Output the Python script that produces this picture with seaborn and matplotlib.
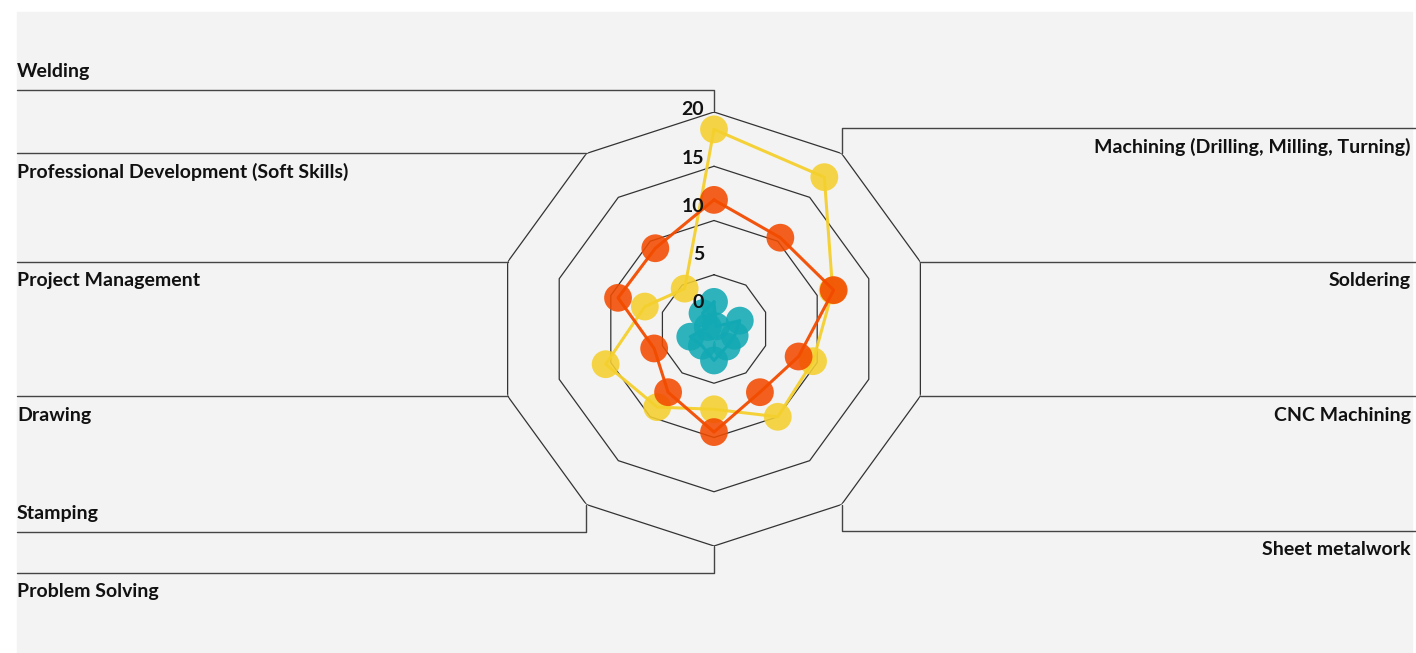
import numpy as np
import pandas as pd
import matplotlib
matplotlib.use("Agg")
import matplotlib.pyplot as plt
from matplotlib.lines import Line2D
from matplotlib.patches import Rectangle
import seaborn as sns

# categories, clockwise from the top
categories = [
    "Welding",
    "Machining (Drilling, Milling, Turning)",
    "Soldering",
    "CNC Machining",
    "Sheet metalwork",
    "Problem Solving",
    "Stamping",
    "Drawing",
    "Project Management",
    "Professional Development (Soft Skills)",
]
yellow_values = [18.4, 17.3, 11.5, 9.6, 10.0, 7.4, 8.9, 10.5, 6.7, 4.6]
orange_values = [11.9, 10.4, 11.6, 8.2, 7.2, 9.5, 7.2, 5.8, 9.3, 9.2]
teal_values = [2.5, 0.3, 2.5, 2.0, 2.0, 2.9, 1.9, 2.3, 0.6, 1.8]
ring_values = [5, 10, 15, 20]
tick_values = [0, 5, 10, 15, 20]

series = {"A": yellow_values, "B": orange_values, "C": teal_values}
colors = {"A": "#F5D02E", "B": "#F24B00", "C": "#12A9B4"}

sns.set_theme(style="white")
plt.rcParams["font.family"] = ["Lato", "DejaVu Sans"]

n = len(categories)
theta = np.arange(n) * 2 * np.pi / n

rows = []
for name, vals in series.items():
    for i in range(n + 1):
        rows.append({"series": name, "theta": theta[i % n], "value": vals[i % n], "order": i})
df = pd.DataFrame(rows)

W, H = 1416, 653
fig = plt.figure(figsize=(W / 100, H / 100), dpi=100)
fig.patch.set_facecolor("white")
fig.add_artist(Rectangle((17 / W, 0), (1412 - 17) / W, (H - 12) / H,
                         transform=fig.transFigure, color="#f3f3f3", zorder=0))

# radar centre and outer radius, in pixels
cx, cy, R = 714, H - 329, 217
ax = fig.add_axes([(cx - R) / W, (cy - R) / H, 2 * R / W, 2 * R / H], projection="polar")
ax.set_theta_zero_location("N")
ax.set_theta_direction(-1)
ax.set_ylim(0, 20)
ax.grid(False)
ax.spines["polar"].set_visible(False)
ax.patch.set_alpha(0)

# polygon rings
closed = np.append(theta, theta[0])
for v in ring_values:
    ax.plot(closed, [v] * len(closed), color="#333333", lw=0.9, zorder=1)

for k, name in enumerate(series):
    sub = df[df["series"] == name]
    sns.lineplot(data=sub, x="theta", y="value", sort=False, estimator=None,
                 color=colors[name], lw=2.2, alpha=0.95, ax=ax, zorder=2 + 2 * k)
    sns.scatterplot(data=sub.iloc[:-1], x="theta", y="value", color=colors[name],
                    s=400, alpha=0.88, edgecolor="none", ax=ax, zorder=3 + 2 * k)

ax.set_xticks([])
ax.set_yticks([])
ax.set_xlabel("")
ax.set_ylabel("")
ax.set_ylim(0, 20)

# radial value labels
for v in tick_values:
    ax.annotate(str(v), (0, 2.4 + v * 0.89), xytext=(-7, 0), textcoords="offset points",
                ha="right", va="center", fontsize=14, fontweight="bold", color="#111111",
                zorder=10, annotation_clip=False)

# leader lines to category labels
jog = {0: 22, 1: 25, 4: -26, 5: -27, 6: -27}
label_off = {0: 18, 6: 18}
for i, cat in enumerate(categories):
    vx, vy = ax.transData.transform((theta[i], 20))
    right = 1 <= i <= 4
    ly = vy + jog.get(i, 0)
    edge = 1416 if right else 17
    fig.add_artist(Line2D([vx / W, vx / W, edge / W], [vy / H, ly / H, ly / H],
                          transform=fig.transFigure, color="#444444", lw=1.0, zorder=1))
    ty = ly + label_off.get(i, -19)
    fig.text((1411 if right else 17) / W, ty / H, cat, ha="right" if right else "left",
             va="center", fontsize=14, fontweight="bold", color="#111111")

fig.savefig("out.png", dpi=100, facecolor="white")
